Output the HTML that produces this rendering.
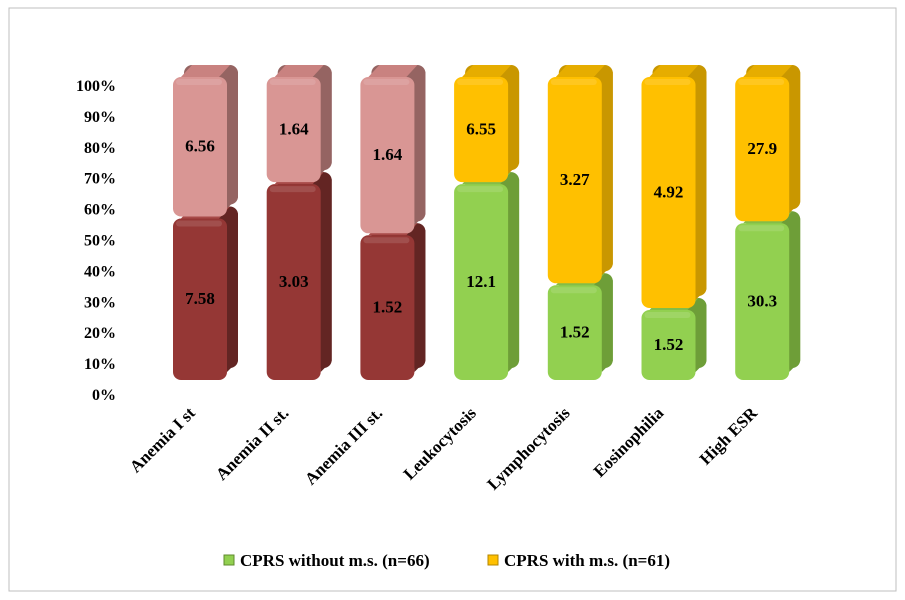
<!DOCTYPE html>
<html><head><meta charset="utf-8"><style>
body{margin:0;background:#fff}
svg{display:block;font-family:"Liberation Serif",serif;font-weight:bold}
</style></head><body>
<svg id="c" width="905" height="600">
<rect x="9" y="8" width="887" height="583" fill="#fff" stroke="#bfbfbf"/>
<g id="yaxis"></g>
<g id="bars"></g>
<g id="xaxis"></g>
<g font-size="17">
<g><rect x="224" y="555" width="10" height="10" fill="#92d050" stroke="#5f8a2c"/><text x="240" y="566">CPRS without m.s. (n=66)</text></g>
<g><rect x="488" y="555" width="10" height="10" fill="#ffc000" stroke="#b38600"/><text x="504" y="566">CPRS with m.s. (n=61)</text></g>
</g>
</svg>
<script>
const categories=["Anemia I st","Anemia II st.","Anemia III st.","Leukocytosis","Lymphocytosis","Eosinophilia","High ESR"];
const lowerValues=[7.58,3.03,1.52,12.1,1.52,1.52,30.3];
const upperValues=[6.56,1.64,1.64,6.55,3.27,4.92,27.9];
const lowerLabels=["7.58","3.03","1.52","12.1","1.52","1.52","30.3"];
const upperLabels=["6.56","1.64","1.64","6.55","3.27","4.92","27.9"];
const yTicks=[0,10,20,30,40,50,60,70,80,90,100];
const NS="http://www.w3.org/2000/svg";
function el(t,a,p){const e=document.createElementNS(NS,t);for(const k in a)e.setAttribute(k,a[k]);p.appendChild(e);return e;}
const yScale=f=>380-f*305;
const axisY=p=>394-p*3.09;
const xLeft=i=>173+i*93.7;
const W=54,D=11;
const ya=document.getElementById('yaxis');
yTicks.forEach(t=>{const tx=el('text',{x:116,y:axisY(t)+6,'text-anchor':'end','font-size':16},ya);tx.textContent=t+'%';

});
const bg=document.getElementById('bars');
function seg(x,y0,y1,front,side,top,label,name){
 const g=el('g',{},bg);
 
 
 const r=8;
 el('rect',{x:x+D,y:y1-D+1,width:W,height:y0-y1-2,rx:r,fill:side},g);
 el('polygon',{points:`${x+W-r},${y1+2} ${x+W-r+D},${y1-D+1} ${x+W+D},${y1-D+r} ${x+W+D},${y0-D-r} ${x+W},${y0-r}`,fill:side},g);
 el('polygon',{points:`${x+r},${y1+2} ${x+r+D},${y1-D+1} ${x+W+D-r},${y1-D+1} ${x+W-r},${y1+2}`,fill:top},g);
 el('rect',{x:x,y:y1+2,width:W,height:y0-y1-2,rx:r,fill:front},g);
 el('rect',{x:x+3,y:y1+4,width:W-8,height:6,rx:3,fill:'#fff',opacity:0.12},g);
 const t=el('text',{x:x+W/2,y:(y0+y1)/2+6,'text-anchor':'middle','font-size':17},g);t.textContent=label;
}
categories.forEach((c,i)=>{
 const tot=lowerValues[i]+upperValues[i];const f=lowerValues[i]/tot;
 const x=xLeft(i);const red=i<3;
 seg(x,yScale(0),yScale(f),red?'#953735':'#92d050',red?'#632523':'#6e9e38',red?'#a84a48':'#84bd48',lowerLabels[i],'bar-lower-'+i);
 seg(x,yScale(f),yScale(1),red?'#d99694':'#ffc000',red?'#956462':'#c99700',red?'#c98280':'#e6ad00',upperLabels[i],'bar-upper-'+i);
 const xa=document.getElementById('xaxis');
 const cx=x+W/2-4, cy=414;
 const t=el('text',{x:cx,y:cy,'text-anchor':'end','font-size':17,transform:`rotate(-45 ${cx} ${cy})`},xa);
 t.textContent=c;
 
 
});
</script>
</body></html>
